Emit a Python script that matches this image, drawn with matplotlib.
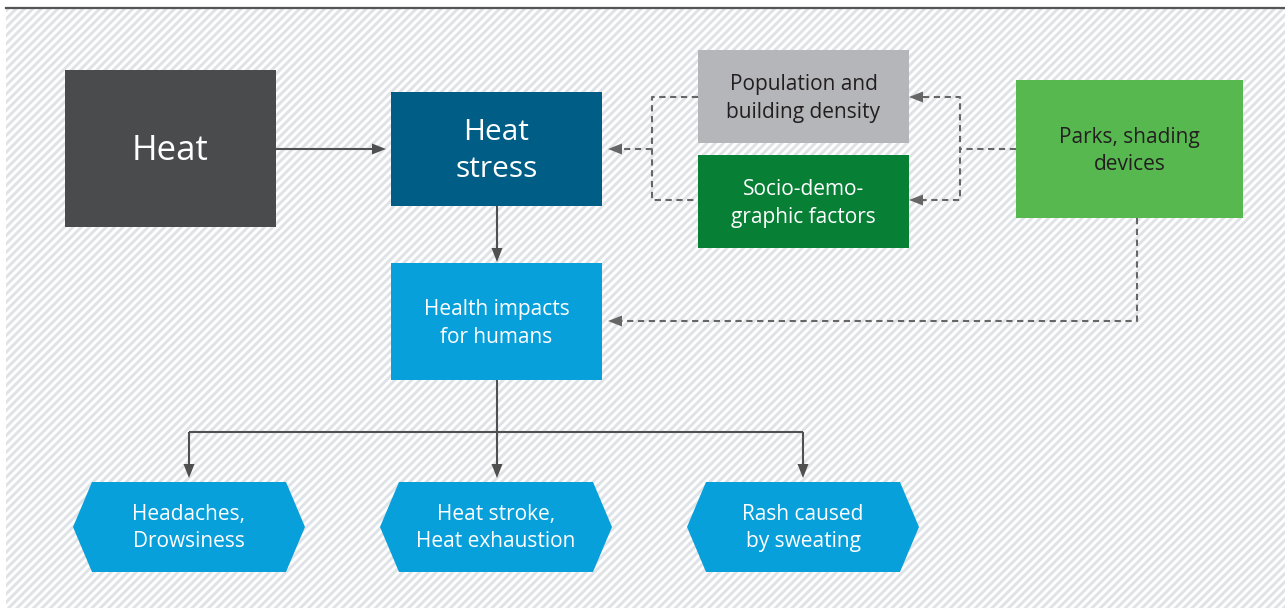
import matplotlib.pyplot as plt
from matplotlib.patches import Rectangle, Polygon

plt.rcParams['font.family'] = ['Open Sans', 'DejaVu Sans']
plt.rcParams['hatch.linewidth'] = 2.1
plt.rcParams['hatch.color'] = '#dfe2e6'

# textos de las cajas
box_labels = ['Heat', 'Heat\nstress', 'Population and\nbuilding density',
              'Socio-demo-\ngraphic factors', 'Parks, shading\ndevices',
              'Health impacts\nfor humans']
box_colors = ['#4a4b4d', '#005d85', '#b5b6b9', '#077f35', '#56b84f', '#08a0da']
box_text_colors = ['white', 'white', '#231f20', 'white', '#231f20', 'white']
box_font = [25, 21.5, 15, 15, 15, 15]
# x0, y0, x1, y1 en pixeles (y hacia abajo)
box_xy = [(65, 70, 276, 227), (391, 92, 602, 206), (698, 50, 909, 143),
          (698, 155, 909, 248), (1016, 80, 1243, 218), (391, 263, 602, 380)]

# hexagonos de efectos
hex_labels = ['Headaches,\nDrowsiness', 'Heat stroke,\nHeat exhaustion',
              'Rash caused\nby sweating']
hex_x = [73, 380, 687]
hex_w = 232
hex_y = (482, 572)

fig = plt.figure(figsize=(12.85, 6.10), dpi=100)
ax = fig.add_axes([0, 0, 1, 1])
ax.set_xlim(0, 1285)
ax.set_ylim(610, 0)
ax.axis('off')

# fondo rayado
ax.add_patch(Rectangle((6, 9), 1285 - 6, 599, facecolor='white',
                       edgecolor='#dfe2e6', hatch='////', linewidth=0, zorder=0))
ax.plot([6, 1285], [7.5, 7.5], color='#555555', lw=1.6, zorder=1)

for lab, col, tc, fs, (x0, y0, x1, y1) in zip(box_labels, box_colors, box_text_colors,
                                              box_font, box_xy):
    ax.add_patch(Rectangle((x0, y0), x1 - x0, y1 - y0, facecolor=col,
                           edgecolor='none', zorder=2))
    ax.text((x0 + x1) / 2, (y0 + y1) / 2 + 2, lab, color=tc, fontsize=fs,
            ha='center', va='center', linespacing=1.4, zorder=3)

y0, y1 = hex_y
yc = (y0 + y1) / 2
for lab, x0 in zip(hex_labels, hex_x):
    x1 = x0 + hex_w
    pts = [(x0, yc), (x0 + 19, y0), (x1 - 19, y0), (x1, yc), (x1 - 19, y1), (x0 + 19, y1)]
    ax.add_patch(Polygon(pts, closed=True, facecolor='#08a0da', edgecolor='none', zorder=2))
    ax.text(x0 + hex_w / 2, yc + 1, lab, color='white', fontsize=15,
            ha='center', va='center', linespacing=1.4, zorder=3)

LINE = '#505050'
DASH = '#666666'


def head(x, y, d, color):
    # punta de flecha triangular, (x, y) es la punta
    L, W = 14, 5.5
    if d == 'left':
        pts = [(x, y), (x + L, y - W), (x + L, y + W)]
    elif d == 'right':
        pts = [(x, y), (x - L, y - W), (x - L, y + W)]
    else:
        pts = [(x, y), (x - W, y - L), (x + W, y - L)]
    ax.add_patch(Polygon(pts, closed=True, facecolor=color, edgecolor='none', zorder=4))


def solid(xs, ys):
    ax.plot(xs, ys, color=LINE, lw=1.5, zorder=1.5, solid_capstyle='butt')


def dashed(xs, ys):
    ax.plot(xs, ys, color=DASH, lw=1.5, zorder=1.5, dashes=(3, 2.2))


# flechas solidas
solid([276, 372], [149, 149]); head(386, 149, 'right', LINE)
solid([497, 497], [206, 250]); head(497, 262, 'down', LINE)
solid([497, 497], [380, 432])
solid([189, 803], [432, 432])
for xa in [189, 497, 803]:
    solid([xa, xa], [432, 466]); head(xa, 478, 'down', LINE)

# flechas discontinuas
dashed([698, 652, 652, 698], [97, 97, 200, 200])
dashed([652, 622], [149, 149]); head(608, 149, 'left', DASH)
dashed([1016, 960], [149, 149])
dashed([923, 960, 960, 923], [97, 97, 200, 200])
head(909, 97, 'left', DASH); head(909, 200, 'left', DASH)
dashed([1137, 1137, 622], [218, 321, 321]); head(608, 321, 'left', DASH)

fig.savefig('out.png', dpi=100)
